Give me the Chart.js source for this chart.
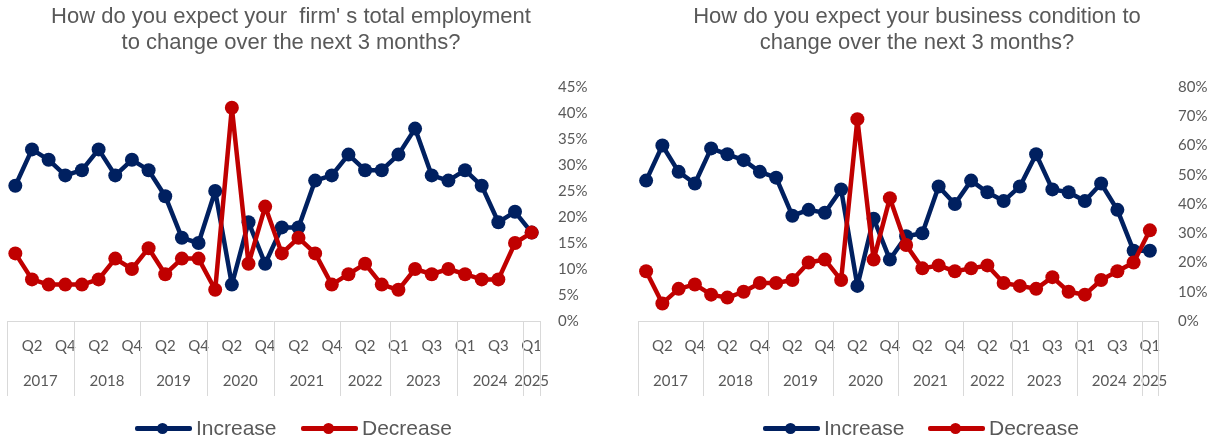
<!DOCTYPE html>
<html>
<head>
<meta charset="utf-8">
<script src="https://cdn.jsdelivr.net/npm/chart.js@4.4.1/dist/chart.umd.min.js"></script>
<style>
    body { margin: 0; width: 1211px; height: 438px; background: #fff; position: relative; overflow: hidden; font-family: "Liberation Sans", Arial, sans-serif; }
    .panel { position: absolute; top: 0; height: 438px; }
    .titulo { position: absolute; top: 3px; width: 600px; margin-left: -300px; text-align: center; font-size: 22px; line-height: 26px; color: #595959; white-space: pre; }
    .leyenda { position: absolute; top: 415px; height: 26px; line-height: 26px; font-size: 21px; color: #595959; white-space: nowrap; }
    .leyenda .ln { position: absolute; left: 0; top: 11px; width: 57px; height: 5px; border-radius: 2px; }
    .leyenda .pt { position: absolute; left: 22px; top: 8px; width: 11px; height: 11px; border-radius: 50%; }
    .leyenda .txt { position: absolute; left: 61px; top: 0; }
</style>
</head>
<body>

<div class="panel" style="left:0;width:605px"><canvas id="empleoChart" width="605" height="438"></canvas></div>
<div class="panel" style="left:605px;width:606px"><canvas id="negocioChart" width="606" height="438"></canvas></div>

<div class="titulo" style="left:291px">How do you expect your  firm' s total employment
to change over the next 3 months?</div>
<div class="titulo" style="left:917px">How do you expect your business condition to
change over the next 3 months?</div>

<div class="leyenda" style="left:135px"><span class="ln" style="background:#002060"></span><span class="pt" style="background:#002060"></span><span class="txt">Increase</span></div>
<div class="leyenda" style="left:301px"><span class="ln" style="background:#C00000"></span><span class="pt" style="background:#C00000"></span><span class="txt">Decrease</span></div>
<div class="leyenda" style="left:763px"><span class="ln" style="background:#002060"></span><span class="pt" style="background:#002060"></span><span class="txt">Increase</span></div>
<div class="leyenda" style="left:928px"><span class="ln" style="background:#C00000"></span><span class="pt" style="background:#C00000"></span><span class="txt">Decrease</span></div>

<script>
// Años y trimestres del eje (2022 solo tiene 3 trimestres)
const anios = ["2017", "2018", "2019", "2020", "2021", "2022", "2023", "2024", "2025"];
const trimestresPorAnio = [4, 4, 4, 4, 4, 3, 4, 4, 1];
const trimestres = [
    "Q1", "Q2", "Q3", "Q4", "Q1", "Q2", "Q3", "Q4", "Q1", "Q2", "Q3", "Q4",
    "Q1", "Q2", "Q3", "Q4", "Q1", "Q2", "Q3", "Q4", "Q1", "Q2", "Q3",
    "Q1", "Q2", "Q3", "Q4", "Q1", "Q2", "Q3", "Q4", "Q1"
];

// Empleo total (%)
const empleoAumento = [26, 33, 31, 28, 29, 33, 28, 31, 29, 24, 16, 15, 25, 7, 19, 11, 18, 18, 27, 28, 32, 29, 29, 32, 37, 28, 27, 29, 26, 19, 21, 17];
const empleoDisminucion = [13, 8, 7, 7, 7, 8, 12, 10, 14, 9, 12, 12, 6, 41, 11, 22, 13, 16, 13, 7, 9, 11, 7, 6, 10, 9, 10, 9, 8, 8, 15, 17];

// Condición del negocio (%)
const negocioAumento = [48, 60, 51, 47, 59, 57, 55, 51, 49, 36, 38, 37, 45, 12, 35, 21, 29, 30, 46, 40, 48, 44, 41, 46, 57, 45, 44, 41, 47, 38, 24, 24];
const negocioDisminucion = [17, 6, 11, 12.5, 9, 8, 10, 13, 13, 14, 20, 21, 14, 69, 21, 42, 26, 18, 19, 17, 18, 19, 13, 12, 11, 15, 10, 9, 14, 17, 20, 31];

const etiquetas = [];
anios.forEach((a, k) => {
    const inicio = trimestresPorAnio.slice(0, k).reduce((s, n) => s + n, 0);
    for (let i = 0; i < trimestresPorAnio[k]; i++) etiquetas.push(a + " " + trimestres[inicio + i]);
});

const colorTexto = "#595959";
const fuenteEje = "15px Lato";

// Eje de categorías en dos niveles (trimestre / año) como en Excel
const ejeMultinivel = {
    id: "ejeMultinivel",
    afterDraw(chart) {
        const { ctx, chartArea } = chart;
        const x = chart.scales.x;
        const y0 = chartArea.bottom;
        ctx.save();
        ctx.strokeStyle = "#d9d9d9";
        ctx.lineWidth = 1;
        ctx.beginPath();
        ctx.moveTo(x.left, y0 + 0.5);
        ctx.lineTo(x.right, y0 + 0.5);
        ctx.stroke();

        ctx.fillStyle = colorTexto;
        ctx.font = fuenteEje;
        ctx.textAlign = "center";
        ctx.textBaseline = "middle";
        trimestres.forEach((q, i) => {
            if (i % 2 === 1) ctx.fillText(q, x.getPixelForValue(i), y0 + 25);
        });

        let inicio = 0;
        anios.forEach((a, k) => {
            const n = trimestresPorAnio[k];
            const izq = x.getPixelForValue(inicio - 0.5);
            const der = x.getPixelForValue(inicio + n - 0.5);
            ctx.fillText(a, (izq + der) / 2, y0 + 60);
            ctx.beginPath();
            ctx.moveTo(Math.round(izq) + 0.5, y0);
            ctx.lineTo(Math.round(izq) + 0.5, y0 + 75);
            ctx.stroke();
            inicio += n;
        });
        const fin = x.getPixelForValue(inicio - 0.5);
        ctx.beginPath();
        ctx.moveTo(Math.round(fin) + 0.5, y0);
        ctx.lineTo(Math.round(fin) + 0.5, y0 + 75);
        ctx.stroke();
        ctx.restore();
    }
};

function serie(datos, color, orden) {
    return {
        data: datos,
        borderColor: color,
        backgroundColor: color,
        pointBackgroundColor: color,
        pointBorderWidth: 0,
        pointRadius: 7,
        borderWidth: 4.5,
        borderJoinStyle: "round",
        borderCapStyle: "round",
        tension: 0,
        order: orden
    };
}

function crearGrafico(id, aumento, disminucion, maximo, paso, padIzq, anchoEje, padTicks) {
    return new Chart(document.getElementById(id), {
        type: "line",
        data: {
            labels: etiquetas,
            datasets: [
                serie(aumento, "#002060", 2),
                serie(disminucion, "#C00000", 1)
            ]
        },
        options: {
            responsive: false,
            animation: false,
            layout: { padding: { left: padIzq, top: 87, right: 0, bottom: 0 } },
            plugins: {
                legend: { display: false },
                title: { display: false },
                tooltip: { enabled: false }
            },
            scales: {
                x: {
                    type: "category",
                    offset: true,
                    grid: { display: false },
                    border: { display: false },
                    ticks: { display: false },
                    afterFit: s => { s.height = 117; }
                },
                y: {
                    position: "right",
                    min: 0,
                    max: maximo,
                    grid: { display: false, drawTicks: false },
                    border: { display: false },
                    ticks: {
                        stepSize: paso,
                        padding: padTicks,
                        color: colorTexto,
                        font: { family: "Lato", size: 15 },
                        callback: v => v + "%"
                    },
                    afterFit: s => { s.width = anchoEje; }
                }
            }
        },
        plugins: [ejeMultinivel]
    });
}

crearGrafico("empleoChart", empleoAumento, empleoDisminucion, 45, 5, 3, 65, 18);
crearGrafico("negocioChart", negocioAumento, negocioDisminucion, 80, 10, 33, 53, 20);
</script>
</body>
</html>
